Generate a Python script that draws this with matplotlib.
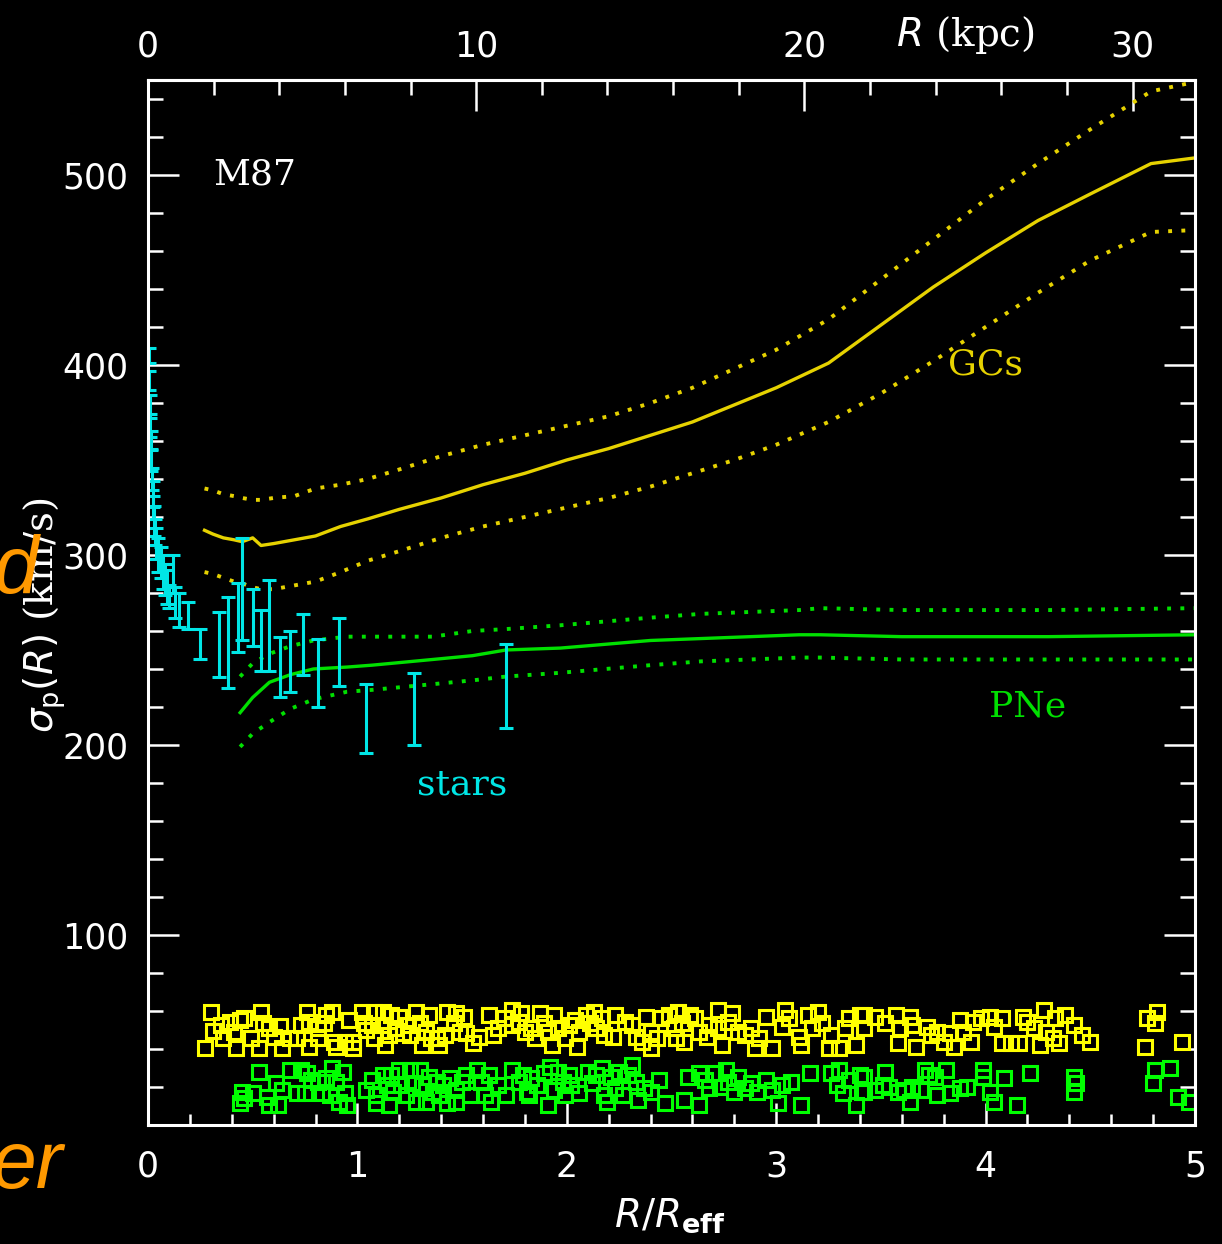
import numpy as np
import matplotlib.pyplot as plt
from matplotlib.ticker import MultipleLocator

REFF_KPC = 6.38  # 1 R_eff in kpc (top axis)

# --- stellar dispersion profile (R/Reff, sigma, error) ---
star_r = [0.005, 0.007, 0.009, 0.011, 0.013, 0.016, 0.019, 0.022, 0.026, 0.030,
          0.035, 0.040, 0.050, 0.060, 0.070, 0.080, 0.090, 0.100, 0.120, 0.130,
          0.150, 0.190, 0.250, 0.340, 0.380, 0.430, 0.450, 0.500, 0.540, 0.580,
          0.630, 0.680, 0.740, 0.810, 0.910, 1.040, 1.270, 1.710]
star_sig = [405, 392, 378, 368, 360, 350, 340, 332, 325, 318,
            312, 306, 300, 296, 291, 287, 283, 278, 290, 275,
            271, 268, 253, 253, 254, 267, 282, 267, 255, 263,
            241, 244, 253, 238, 249, 214, 219, 231]
star_err = [4, 5, 6, 6, 5, 6, 6, 7, 6, 8,
            7, 8, 9, 8, 9, 8, 9, 6, 10, 8,
            9, 7, 8, 17, 24, 18, 27, 15, 16, 24,
            16, 16, 16, 18, 18, 18, 19, 22]

# --- GC dispersion model with 1-sigma band ---
gc_r = [0.27, 0.31, 0.36, 0.41, 0.45, 0.50, 0.54, 0.60, 0.70, 0.80,
        0.92, 1.05, 1.20, 1.40, 1.60, 1.80, 2.00, 2.20, 2.40, 2.60,
        2.80, 3.00, 3.25, 3.50, 3.75, 4.00, 4.25, 4.50, 4.79, 5.00]
gc_mid = [313, 311, 309, 308, 307, 309, 305, 306, 308, 310,
          315, 319, 324, 330, 337, 343, 350, 356, 363, 370,
          379, 388, 401, 421, 441, 459, 476, 490, 506, 509]
gc_hi = [335, 334, 332, 331, 330, 329, 329, 330, 331, 335,
         337, 340, 345, 352, 358, 363, 368, 373, 380, 388,
         398, 408, 424, 445, 466, 487, 506, 524, 544, 549]
gc_lo = [291, 290, 288, 286, 285, 283, 282, 282, 284, 286,
         291, 297, 302, 309, 315, 320, 325, 330, 336, 343,
         350, 358, 370, 385, 402, 420, 438, 455, 470, 471]

# --- PN dispersion model with 1-sigma band ---
pn_r = [0.44, 0.50, 0.58, 0.68, 0.79, 0.95, 1.07, 1.36, 1.55, 1.71,
        1.97, 2.40, 2.64, 3.11, 3.21, 3.60, 4.07, 4.30, 5.00]
pn_mid = [217, 225, 233, 237, 240, 241, 242, 245, 247, 250,
          251, 255, 256, 258, 258, 257, 257, 257, 258]
pn_hi = [236, 243, 248, 252, 255, 257, 257, 257, 260, 261,
         263, 267, 269, 271, 272, 271, 271, 271, 272]
pn_lo = [199, 206, 212, 219, 224, 228, 229, 232, 234, 236,
         238, 242, 244, 246, 246, 245, 245, 245, 245]

# --- radial positions of individual tracers (plotted as a strip) ---
gc_pts_r = [0.30, 0.27, 0.31, 0.36, 0.35, 0.39, 0.41, 0.44, 0.46, 0.42, 0.49, 0.54, 0.55, 0.53,
            0.58, 0.63, 0.64, 0.60, 0.68, 0.71, 0.73, 0.76, 0.77, 0.77, 0.81, 0.81, 0.84, 0.85,
            0.88, 0.89, 0.90, 0.94, 0.96, 0.98, 0.98, 1.02, 1.03, 1.04, 1.07, 1.08, 1.08, 1.12,
            1.12, 1.13, 1.15, 1.16, 1.18, 1.20, 1.22, 1.24, 1.25, 1.28, 1.30, 1.31, 1.33, 1.34,
            1.35, 1.38, 1.39, 1.42, 1.43, 1.46, 1.47, 1.49, 1.51, 1.52, 1.55, 1.58, 1.63, 1.65,
            1.67, 1.70, 1.74, 1.74, 1.77, 1.78, 1.80,
            1.83, 1.85, 1.87, 1.89, 1.91, 1.93, 1.94, 1.96, 1.99, 2.01, 2.04, 2.05, 2.06, 2.09,
            2.11, 2.13, 2.14, 2.17, 2.18, 2.22, 2.23, 2.28, 2.31, 2.33, 2.36, 2.38, 2.40, 2.40,
            2.43, 2.45, 2.49, 2.51, 2.52, 2.53, 2.55, 2.56, 2.59, 2.61, 2.63, 2.67, 2.68, 2.72,
            2.72, 2.74, 2.77, 2.79, 2.82, 2.85, 2.88, 2.90, 2.92, 2.95, 2.98, 3.03, 3.04, 3.06,
            3.11, 3.12, 3.15, 3.17, 3.20, 3.22, 3.25, 3.26, 3.30, 3.33, 3.35, 3.38, 3.40,
            3.42, 3.42, 3.47, 3.52, 3.57, 3.58, 3.59, 3.64, 3.65, 3.67, 3.72, 3.74, 3.77, 3.80,
            3.83, 3.85, 3.88, 3.89, 3.93, 3.94, 3.98, 4.02, 4.04, 4.08, 4.08, 4.12, 4.16, 4.18,
            4.20, 4.23, 4.26, 4.28, 4.29, 4.32, 4.33, 4.35, 4.38, 4.42, 4.46, 4.50, 4.77, 4.82,
            4.81, 4.76, 4.94]
gc_pts_y = [59.6, 40.7, 49.5, 45.6, 52.6, 54.4, 49.1, 55.2, 56.5, 40.7, 45.6, 59.6, 53.5, 40.3,
            50.9, 52.3, 40.3, 46.5, 45.6, 46.0, 52.6, 59.6, 54.4, 41.2, 50.9, 45.6, 53.5, 57.9,
            59.6, 43.8, 41.2, 43.8, 55.2, 43.8, 40.3, 59.6, 53.5, 50.0, 52.6, 45.6, 59.6, 59.6,
            52.6, 42.1, 47.4, 57.9, 50.9, 57.0, 48.2, 52.6, 47.4, 59.6, 53.5, 42.1, 49.1, 57.9,
            45.6, 45.6, 42.1, 47.4, 59.6, 53.5, 58.8, 49.1, 57.0, 48.2, 43.0, 46.5, 57.9, 47.4,
            50.9, 56.1, 60.5, 52.6, 54.4, 58.8, 49.1,
            50.9, 45.6, 58.8, 53.5, 49.1, 42.1, 57.9, 50.9, 45.6, 52.6, 55.2, 41.2, 49.1, 57.9,
            53.5, 59.6, 50.9, 56.1, 47.4, 46.5, 57.9, 54.4, 52.6, 46.5, 43.8, 57.0, 49.1, 40.3,
            45.6, 56.1, 57.9, 50.9, 45.6, 59.6, 53.5, 43.8, 57.9, 56.1, 49.1, 46.5, 52.6, 60.5,
            50.9, 42.1, 54.4, 58.8, 49.1, 47.4, 50.9, 40.3, 45.6, 57.0, 40.3, 51.7, 60.5, 56.1,
            46.5, 42.1, 57.9, 50.9, 59.6, 53.5, 40.3, 47.4, 40.3, 50.9, 56.1, 42.1, 57.9,
            57.9, 50.9, 57.0, 53.5, 57.9, 43.0, 50.9, 57.0, 52.6, 41.2, 51.7, 47.4, 49.1, 43.8,
            48.2, 41.2, 55.2, 49.1, 43.8, 54.4, 56.1, 57.0, 51.7, 43.0, 56.1, 43.0, 43.0, 57.0,
            54.4, 50.9, 42.1, 60.5, 49.1, 45.6, 56.1, 43.0, 57.9, 52.6, 47.4, 43.8, 56.1, 59.6,
            53.5, 41.2, 43.8]

pn_pts_r = [0.53, 0.45, 0.46, 0.44, 0.50, 0.57, 0.58, 0.61, 0.62, 0.64, 0.68, 0.71, 0.73, 0.75,
            0.76, 0.78, 0.81, 0.83, 0.85, 0.87, 0.88, 0.90, 0.91, 0.93, 0.94, 0.95, 1.04, 1.07,
            1.09, 1.09, 1.12, 1.14, 1.15, 1.16, 1.17, 1.20, 1.21, 1.23, 1.25, 1.26, 1.28, 1.30,
            1.31, 1.33, 1.34, 1.36, 1.38, 1.39, 1.41, 1.43, 1.44, 1.47, 1.47, 1.50, 1.52, 1.54,
            1.57, 1.59, 1.61, 1.63, 1.64, 1.67, 1.71, 1.74, 1.77, 1.79, 1.81,
            1.83, 1.82, 1.86, 1.89, 1.91, 1.92, 1.94, 1.96, 1.98, 1.99, 2.01, 2.02, 2.06, 2.10,
            2.12, 2.14, 2.17, 2.18, 2.19, 2.21, 2.23, 2.25, 2.27, 2.29, 2.31, 2.33, 2.34, 2.37,
            2.40, 2.44, 2.47, 2.56, 2.58, 2.63, 2.63, 2.66, 2.68, 2.71, 2.73, 2.76, 2.77, 2.80,
            2.82, 2.85, 2.88, 2.91, 2.95, 2.98, 3.01, 3.03, 3.07, 3.12, 3.16, 3.26, 3.29, 3.30,
            3.32, 3.35, 3.38, 3.40, 3.41,
            3.42, 3.42, 3.47, 3.52, 3.51, 3.54, 3.58, 3.61, 3.64, 3.65, 3.69, 3.71, 3.73, 3.76,
            3.77, 3.81, 3.83, 3.88, 3.91, 3.99, 3.99, 4.02, 4.04, 4.09, 4.15, 4.21, 4.42, 4.43,
            4.42, 4.81, 4.88, 4.80, 4.92, 4.97]
pn_pts_y = [27.7, 17.5, 14.0, 11.4, 16.6, 14.9, 10.5, 21.9, 10.5, 18.4, 28.9, 16.6, 28.9, 16.6,
            27.2, 23.7, 22.8, 16.6, 24.5, 15.8, 29.8, 22.8, 12.3, 28.1, 16.6, 10.5, 18.4, 23.7,
            15.8, 11.4, 26.3, 21.0, 10.5, 26.3, 17.5, 28.9, 21.0, 15.8, 28.9, 21.9, 12.3, 28.9,
            21.0, 12.3, 25.4, 17.5, 22.8, 15.8, 21.0, 11.4, 24.5, 18.4, 12.3, 22.8, 26.3, 15.8,
            28.9, 22.8, 15.8, 26.3, 12.3, 21.0, 15.8, 28.9, 22.8, 26.3, 17.5,
            24.5, 15.8, 21.0, 27.2, 10.5, 30.7, 18.4, 28.1, 22.8, 15.8, 26.3, 21.0, 16.6, 28.1,
            21.9, 26.3, 29.8, 15.8, 12.3, 25.4, 19.3, 28.1, 15.8, 26.3, 31.6, 22.8, 13.1, 19.3,
            17.5, 23.7, 11.4, 13.1, 25.4, 27.2, 10.5, 23.7, 19.3, 27.2, 20.2, 28.9, 22.8, 17.5,
            25.4, 19.3, 21.9, 17.5, 23.7, 18.4, 11.4, 21.0, 22.8, 10.5, 27.2, 27.2, 21.0, 28.9,
            16.6, 23.7, 10.5, 26.3, 17.5,
            25.4, 17.5, 18.4, 28.1, 21.0, 20.2, 17.5, 18.4, 12.3, 20.2, 18.4, 28.9, 26.3, 25.4,
            15.8, 28.9, 16.6, 19.3, 20.2, 28.9, 25.4, 17.5, 12.3, 24.5, 10.5, 27.2, 25.4, 21.9,
            17.5, 28.9, 29.8, 21.9, 14.9, 12.3]

kpc_ticks = [0, 10, 20, 30]

CYAN = '#00e6e6'
GC_LINE = '#e6d200'
GC_PTS = '#ffff00'
PN_LINE = '#00e000'
PN_PTS = '#00ff00'
DOT = (0, (1, 2.4))

fig = plt.figure(figsize=(12.22, 12.44), dpi=100, facecolor='black')
ax = fig.add_axes([0.1211, 0.0957, 0.8568, 0.8400], facecolor='black')

# tracer strips
ax.plot(gc_pts_r, gc_pts_y, 's', mfc='none', mec=GC_PTS, ms=9.5, mew=2.2)
ax.plot(pn_pts_r, pn_pts_y, 's', mfc='none', mec=PN_PTS, ms=9.5, mew=2.2)

# GC model
ax.plot(gc_r, gc_mid, color=GC_LINE, lw=2.4)
ax.plot(gc_r, gc_hi, color=GC_LINE, lw=2.8, ls=DOT)
ax.plot(gc_r, gc_lo, color=GC_LINE, lw=2.8, ls=DOT)

# PN model
ax.plot(pn_r, pn_mid, color=PN_LINE, lw=2.4)
ax.plot(pn_r, pn_hi, color=PN_LINE, lw=2.8, ls=DOT)
ax.plot(pn_r, pn_lo, color=PN_LINE, lw=2.8, ls=DOT)

# stars
ax.errorbar(star_r, star_sig, yerr=star_err, fmt='none', ecolor=CYAN,
            elinewidth=2.2, capsize=5, capthick=2.2)

ax.set_xlim(0, 5)
ax.set_ylim(0, 550)

for s in ax.spines.values():
    s.set_color('white')
    s.set_linewidth(2.2)

ax.xaxis.set_major_locator(MultipleLocator(1))
ax.xaxis.set_minor_locator(MultipleLocator(0.2))
ax.set_yticks([100, 200, 300, 400, 500])
ax.yaxis.set_minor_locator(MultipleLocator(20))
ax.tick_params(which='both', direction='in', colors='white', width=1.8,
               left=True, right=True, bottom=True, top=False,
               labelsize=25, labelcolor='white')
ax.tick_params(axis='y', which='major', length=22, pad=14)
ax.tick_params(axis='y', which='minor', length=11)
ax.tick_params(axis='x', which='major', length=16, pad=18)
ax.tick_params(axis='x', which='minor', length=8)

sec = ax.secondary_xaxis('top', functions=(lambda x: x * REFF_KPC,
                                            lambda k: k / REFF_KPC))
sec.set_xticks(kpc_ticks)
sec.xaxis.set_minor_locator(MultipleLocator(2))
sec.tick_params(which='both', direction='in', colors='white', width=1.8,
                labelsize=25, labelcolor='white')
sec.tick_params(which='major', length=22, pad=12)
sec.tick_params(which='minor', length=11)
sec.spines['top'].set_color('white')
sec.spines['top'].set_linewidth(2.2)

# labels inside the panel
lab = dict(family='DejaVu Serif', fontsize=26, va='center')
ax.text(0.31, 500, 'M87', color='white', ha='left', **lab)
ax.text(4.00, 400, 'GCs', color=GC_LINE, ha='center', **lab)
ax.text(4.20, 220, 'PNe', color=PN_LINE, ha='center', **lab)
ax.text(1.50, 179, 'stars', color=CYAN, ha='center', **lab)

# axis titles
fig.text(0.0368, 0.505, r'$\sigma_{\rm p}(R)$ (km/s)', color='white', fontsize=28,
         rotation=90, ha='center', va='center', family='DejaVu Serif')
fig.text(0.548, 0.023, r'$R/R_{\bf eff}$', color='white', fontsize=28,
         ha='center', va='center')
fig.text(0.79, 0.972, r'$R$ (kpc)', color='white', fontsize=28,
         ha='center', va='center', family='DejaVu Serif')

# remnants of the slide text at the left edge
fig.text(0.031, 0.523, 'd', color='#ff9900', fontsize=58, style='italic',
         family='Liberation Sans', ha='right', va='baseline')
fig.text(0.051, 0.045, 'er', color='#ff9900', fontsize=58, style='italic',
         family='Liberation Sans', ha='right', va='baseline')

fig.savefig('out.png', dpi=100, facecolor='black')
